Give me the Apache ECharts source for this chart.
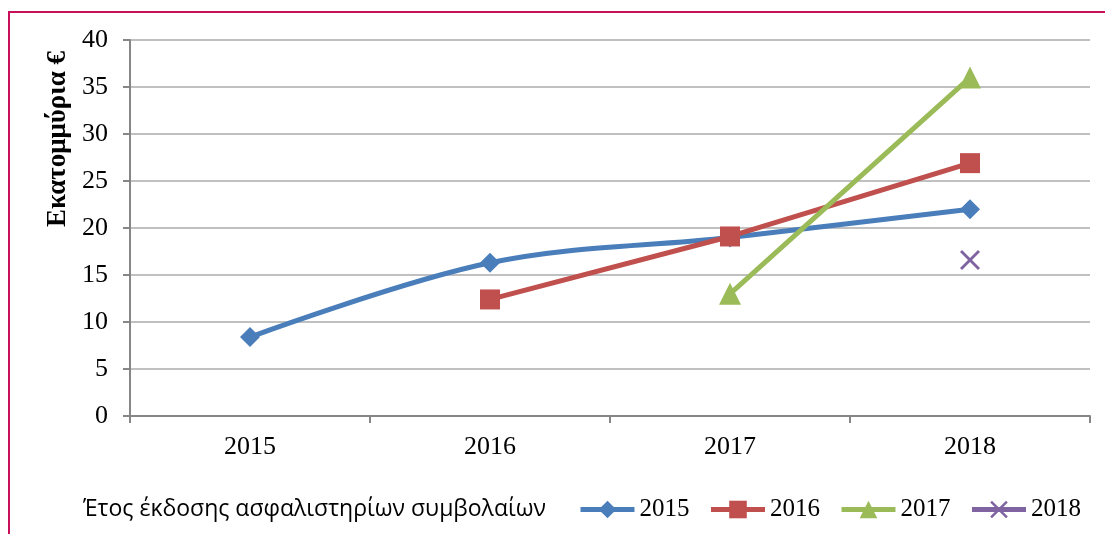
<!DOCTYPE html>
<html>
<head>
<meta charset="utf-8">
<script src="https://cdn.jsdelivr.net/npm/echarts@6/dist/echarts.min.js"></script>
<style>
	html, body { margin: 0; padding: 0; background: #fff; overflow: hidden; }
	#frame { position: absolute; left: 8px; top: 11px; width: 1300px; height: 700px; border: 2px solid #c8105a; }
	#chart { position: absolute; left: 0; top: 0; width: 1105px; height: 534px; }
</style>
</head>
<body>
<div id="frame"></div>
<div id="chart"></div>
<script>
	// categories and series values
	const years = ['2015', '2016', '2017', '2018']
	const s2015 = [8.4, 16.3, 19.0, 22.0]
	const s2016 = [null, 12.4, 19.1, 26.9]
	const s2017 = [null, null, 13.0, 36.0]
	const s2018 = [null, null, null, 16.6]
	const seriesNames = ['2015', '2016', '2017', '2018']
	const yTitle = 'Εκατομμύρια €'
	const xTitle = 'Έτος έκδοσης ασφαλιστηρίων συμβολαίων'

	const serif = '"Liberation Serif", "Times New Roman", serif'
	const cross = 'path://M0,1L1,0L5,4L9,0L10,1L6,5L10,9L9,10L5,6L1,10L0,9L4,5Z'

	let chart = echarts.init(document.getElementById('chart'), null, { renderer: 'canvas' })

	function lineSeries(name, data, color, symbol, size, smooth) {
		return {
			name: name,
			type: 'line',
			data: data,
			smooth: smooth,
			connectNulls: false,
			symbol: symbol,
			symbolSize: size,
			showSymbol: true,
			lineStyle: { color: color, width: 5 },
			itemStyle: { color: color },
			emphasis: { disabled: true },
			z: 2
		}
	}

	let option = {
		animation: false,
		grid: { left: 130, right: 15, top: 40, bottom: 118 },
		title: {
			text: xTitle,
			left: 78,
			top: 493,
			textStyle: { fontFamily: '"Open Sans", "Noto Sans", sans-serif', fontWeight: 'normal', fontSize: 23, color: '#000' }
		},
		legend: {
			left: 573,
			top: 492,
			itemWidth: 54,
			itemHeight: 22,
			itemGap: 19,
			lineStyle: { width: 5 },
			textStyle: { fontFamily: serif, fontSize: 25, color: '#000' },
			data: seriesNames
		},
		graphic: [{
			type: 'text',
			x: 58,
			y: 139,
			rotation: Math.PI / 2,
			style: {
				text: yTitle,
				fontFamily: serif,
				fontWeight: 'bold',
				fontSize: 27,
				fill: '#000',
				textAlign: 'center',
				textVerticalAlign: 'middle'
			}
		}],
		xAxis: {
			type: 'category',
			data: years,
			boundaryGap: true,
			axisLine: { lineStyle: { color: '#868686', width: 2 } },
			axisTick: { show: true, length: 7, lineStyle: { color: '#868686', width: 2 } },
			axisLabel: { fontFamily: serif, fontSize: 26, color: '#000', margin: 18 },
			splitLine: { show: false }
		},
		yAxis: {
			type: 'value',
			min: 0,
			max: 40,
			interval: 5,
			axisLine: { show: true, lineStyle: { color: '#868686', width: 2 } },
			axisTick: { show: true, length: 7, lineStyle: { color: '#868686', width: 2 } },
			axisLabel: { fontFamily: serif, fontSize: 26, color: '#000', margin: 22 },
			splitLine: { lineStyle: { color: '#c0c0c0', width: 2 } }
		},
		series: [
			lineSeries('2015', s2015, '#4a7ebb', 'diamond', 20, 0.35),
			lineSeries('2016', s2016, '#c0504d', 'rect', 20, false),
			lineSeries('2017', s2017, '#9bbb59', 'triangle', 22, false),
			lineSeries('2018', s2018, '#8064a2', cross, 20, false)
		]
	}

	chart.setOption(option)
</script>
</body>
</html>
